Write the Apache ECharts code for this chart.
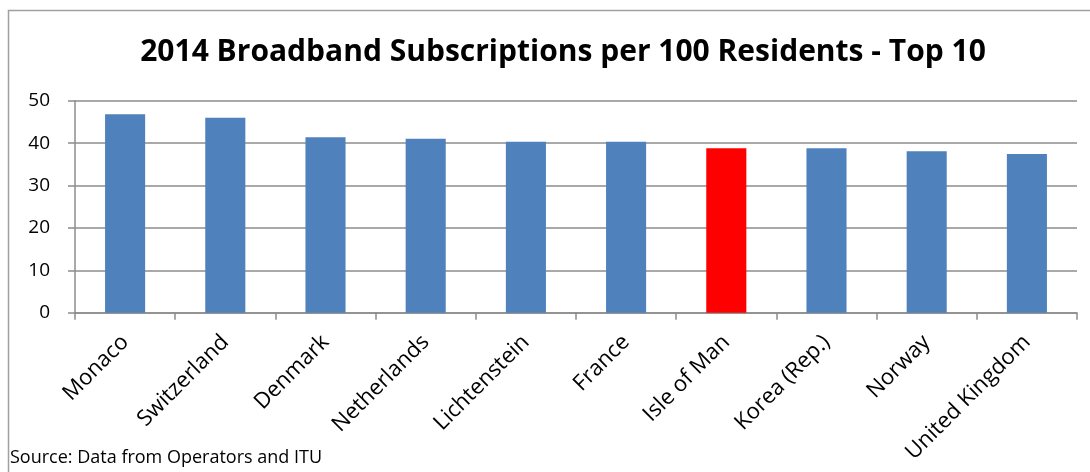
<!DOCTYPE html>
<html>
<head>
<meta charset="utf-8">
<script src="https://cdn.jsdelivr.net/npm/echarts@6/dist/echarts.min.js"></script>
<style>
html,body{margin:0;padding:0;background:#fff;}
#chart{width:1090px;height:472px;}
</style>
</head>
<body>
<div id="chart"></div>
<script>
var categories = ["Monaco","Switzerland","Denmark","Netherlands","Lichtenstein","France","Isle of Man","Korea (Rep.)","Norway","United Kingdom"];
var values = [46.8, 46.0, 41.4, 41.0, 40.3, 40.3, 38.8, 38.8, 38.1, 37.4];
var highlight = "Isle of Man";
var titleText = "2014 Broadband Subscriptions per 100 Residents - Top 10";
var sourceText = "Source: Data from Operators and ITU";

var chart = echarts.init(document.getElementById('chart'));
var font = "'Open Sans', 'Noto Sans', sans-serif";
chart.setOption({
  animation: false,
  backgroundColor: '#fff',
  title: {
    text: titleText,
    left: 558, top: 32, textAlign: 'center',
    textStyle: { fontFamily: font, fontWeight: 'bold', fontSize: 30, color: '#000' }
  },
  graphic: [
    { type: 'polyline', shape: { points: [[8.5, 480], [8.5, 10.5], [1100, 10.5]] },
      style: { stroke: '#a0a0a0', lineWidth: 1.5, fill: null } },
    { type: 'text', left: 10, top: 449,
      style: { text: sourceText, fontFamily: font, fontSize: 18, fill: '#000' } }
  ],
  grid: { left: 75, right: 13, top: 100.7, bottom: 159.3, containLabel: false },
  xAxis: {
    type: 'category', data: categories,
    axisLine: { lineStyle: { color: '#8c8c8c', width: 1.5 } },
    axisTick: { show: true, length: 7, alignWithLabel: false, lineStyle: { color: '#8c8c8c', width: 1.5 } },
    axisLabel: { rotate: 45, fontFamily: font, fontSize: 22, color: '#000', margin: 26, interval: 0 }
  },
  yAxis: {
    type: 'value', min: 0, max: 50, interval: 10,
    axisLine: { show: true, lineStyle: { color: '#8c8c8c', width: 1.5 } },
    axisTick: { show: true, length: 7, lineStyle: { color: '#8c8c8c', width: 1.5 } },
    splitLine: { lineStyle: { color: '#8c8c8c', width: 1.5 } },
    axisLabel: { fontFamily: font, fontSize: 19, color: '#000', margin: 25 }
  },
  series: [{
    type: 'bar', barWidth: '40%',
    data: values.map(function (v, i) {
      return categories[i] === highlight
        ? { value: v, itemStyle: { color: '#ff0000' } }
        : { value: v, itemStyle: { color: '#4f81bd' } };
    })
  }]
});
</script>
</body>
</html>
